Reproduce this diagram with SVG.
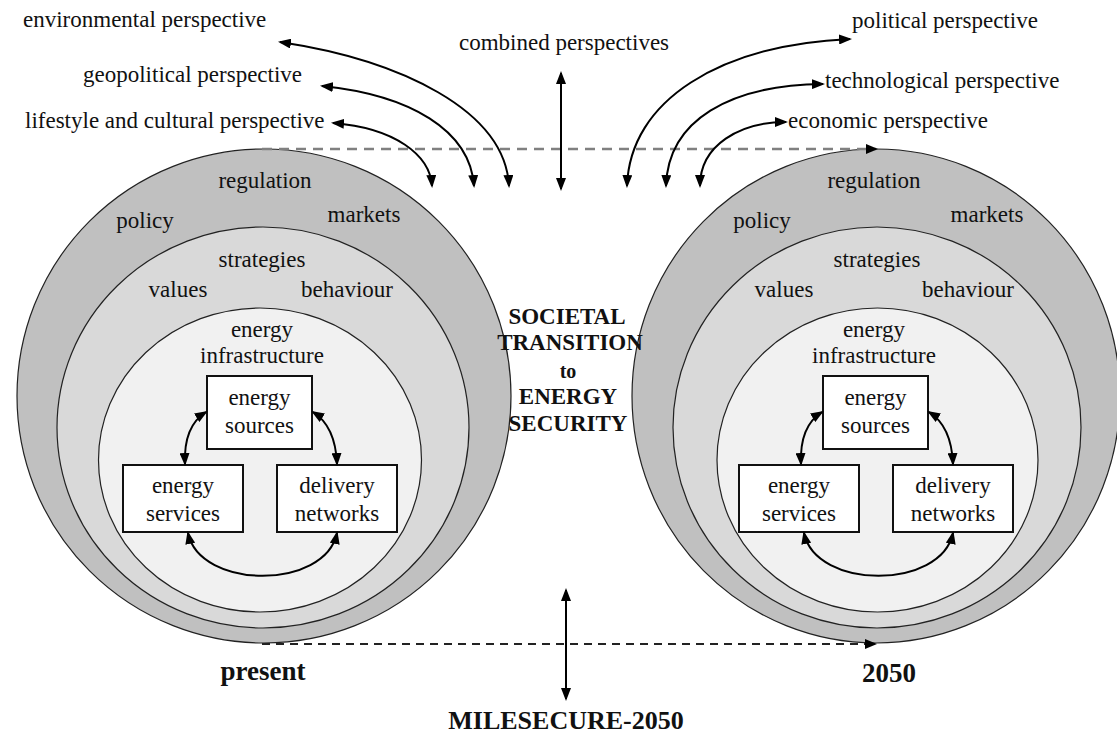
<svg xmlns="http://www.w3.org/2000/svg" width="1117" height="736" viewBox="0 0 1117 736">
<style>
  .t { font-family: "Liberation Serif", "Times New Roman", serif; font-size: 23px; fill: #111; }
  .c { text-anchor: middle; }
  .b { font-weight: bold; }
  .big { font-size: 27px; }
  .ring1 { fill: #c0c0c0; stroke: #222; stroke-width: 1.2; }
  .ring2 { fill: #d9d9d9; stroke: #222; stroke-width: 1.2; }
  .ring3 { fill: #f1f1f1; stroke: #222; stroke-width: 1.2; }
  .box { fill: #fff; stroke: #111; stroke-width: 2; }
  .arr { fill: none; stroke: #000; stroke-width: 2; marker-start: url(#ah); marker-end: url(#ah); }
  .dash1 { fill: none; stroke: #808080; stroke-width: 2.5; stroke-dasharray: 10 7; marker-end: url(#ahs); }
  .dash2 { fill: none; stroke: #222; stroke-width: 2; stroke-dasharray: 8 6; marker-end: url(#ahs); }
</style>
<defs>
  <marker id="ah" viewBox="0 0 13 10" refX="11" refY="5" markerWidth="13" markerHeight="10" markerUnits="userSpaceOnUse" orient="auto-start-reverse">
    <path d="M0,0 L13,5 L0,10 z" fill="#000"/>
  </marker>
  <marker id="ahs" viewBox="0 0 12 10" refX="10" refY="5" markerWidth="12" markerHeight="10" markerUnits="userSpaceOnUse" orient="auto">
    <path d="M0,0 L12,5 L0,10 z" fill="#000"/>
  </marker>
</defs>
<rect width="1117" height="736" fill="#fff"/>

<!-- Left (present) -->
<g id="present-outer">
  <ellipse class="ring1" cx="264" cy="396" rx="247" ry="247"/>
  <text class="t c" x="265" y="188">regulation</text>
  <text class="t c" x="145" y="228">policy</text>
  <text class="t c" x="364" y="222">markets</text>
</g>
<g id="present-middle">
  <ellipse class="ring2" cx="263" cy="427.5" rx="206" ry="200.5"/>
  <text class="t c" x="262" y="267">strategies</text>
  <text class="t c" x="178" y="297">values</text>
  <text class="t c" x="347" y="297">behaviour</text>
</g>
<g id="present-inner">
  <ellipse class="ring3" cx="260" cy="460" rx="161.5" ry="152"/>
  <text class="t c" x="262" y="337">energy</text>
  <text class="t c" x="262" y="363">infrastructure</text>
</g>
<g id="present-sources">
  <rect class="box" x="207" y="376" width="105" height="73"/>
  <text class="t c" x="259.5" y="405">energy</text>
  <text class="t c" x="259.5" y="433">sources</text>
</g>
<g id="present-services">
  <rect class="box" x="123" y="465" width="120" height="67"/>
  <text class="t c" x="183" y="493">energy</text>
  <text class="t c" x="183" y="521">services</text>
</g>
<g id="present-networks">
  <rect class="box" x="277" y="465" width="120" height="67"/>
  <text class="t c" x="337" y="493">delivery</text>
  <text class="t c" x="337" y="521">networks</text>
</g>

<!-- Right (2050) -->
<g id="future-outer">
  <ellipse class="ring1" cx="876" cy="396" rx="244" ry="247"/>
  <text class="t c" x="874" y="188">regulation</text>
  <text class="t c" x="762" y="228">policy</text>
  <text class="t c" x="987" y="222">markets</text>
</g>
<g id="future-middle">
  <ellipse class="ring2" cx="877" cy="427.5" rx="204" ry="200.5"/>
  <text class="t c" x="877" y="267">strategies</text>
  <text class="t c" x="784" y="297">values</text>
  <text class="t c" x="968" y="297">behaviour</text>
</g>
<g id="future-inner">
  <ellipse class="ring3" cx="877.5" cy="460" rx="160.5" ry="152"/>
  <text class="t c" x="874" y="337">energy</text>
  <text class="t c" x="874" y="363">infrastructure</text>
</g>
<g id="future-sources">
  <rect class="box" x="823" y="376" width="105" height="73"/>
  <text class="t c" x="875.5" y="405">energy</text>
  <text class="t c" x="875.5" y="433">sources</text>
</g>
<g id="future-services">
  <rect class="box" x="739" y="465" width="120" height="67"/>
  <text class="t c" x="799" y="493">energy</text>
  <text class="t c" x="799" y="521">services</text>
</g>
<g id="future-networks">
  <rect class="box" x="893" y="465" width="120" height="67"/>
  <text class="t c" x="953" y="493">delivery</text>
  <text class="t c" x="953" y="521">networks</text>
</g>

<!-- Labels -->
<g id="perspectives">
  <text class="t" x="23" y="27">environmental perspective</text>
  <text class="t" x="83" y="82">geopolitical perspective</text>
  <text class="t" x="25" y="128">lifestyle and cultural perspective</text>
  <text class="t c" x="564" y="50">combined perspectives</text>
  <text class="t" x="852" y="28">political perspective</text>
  <text class="t" x="825" y="88">technological perspective</text>
  <text class="t" x="788" y="128">economic perspective</text>
</g>
<g id="transition">
  <text class="t c b" x="567" y="324">SOCIETAL</text>
  <text class="t c b" x="570" y="350">TRANSITION</text>
  <text class="t c b" x="568" y="378" style="font-size:20px">to</text>
  <text class="t c b" x="568" y="404">ENERGY</text>
  <text class="t c b" x="568" y="431">SECURITY</text>
</g>
<g id="timeline-labels">
  <text class="t b big c" x="263" y="680">present</text>
  <text class="t b big c" x="889" y="682">2050</text>
  <text class="t b c" x="566" y="729" style="font-size:26px">MILESECURE-2050</text>
</g>

<!-- Connectors -->
<g id="connectors">
  <path class="dash1" d="M262,149 H876"/>
  <path class="dash2" d="M262,644 H875"/>
  <path class="arr" d="M280,42 C400,60 505,110 509,186"/>
  <path class="arr" d="M322,86 C410,95 470,130 474,186"/>
  <path class="arr" d="M333,123 C395,128 430,155 432,186"/>
  <path class="arr" d="M561,73 V189"/>
  <path class="arr" d="M627,186 C630,100 720,45 850,39"/>
  <path class="arr" d="M666,186 C668,120 730,85 823,84"/>
  <path class="arr" d="M700,186 C700,145 740,122 786,122"/>
  <path class="arr" d="M566,590 V699"/>
  <!-- left inner -->
  <path class="arr" d="M206,412 C190,422 184,440 185,464"/>
  <path class="arr" d="M313,412 C329,422 336,440 337,464"/>
  <path class="arr" d="M188,533 C200,590 325,590 337,533"/>
  <!-- right inner -->
  <path class="arr" d="M822,412 C806,422 800,440 801,464"/>
  <path class="arr" d="M929,412 C945,422 952,440 953,464"/>
  <path class="arr" d="M804,533 C816,590 941,590 953,533"/>
</g>
</svg>
